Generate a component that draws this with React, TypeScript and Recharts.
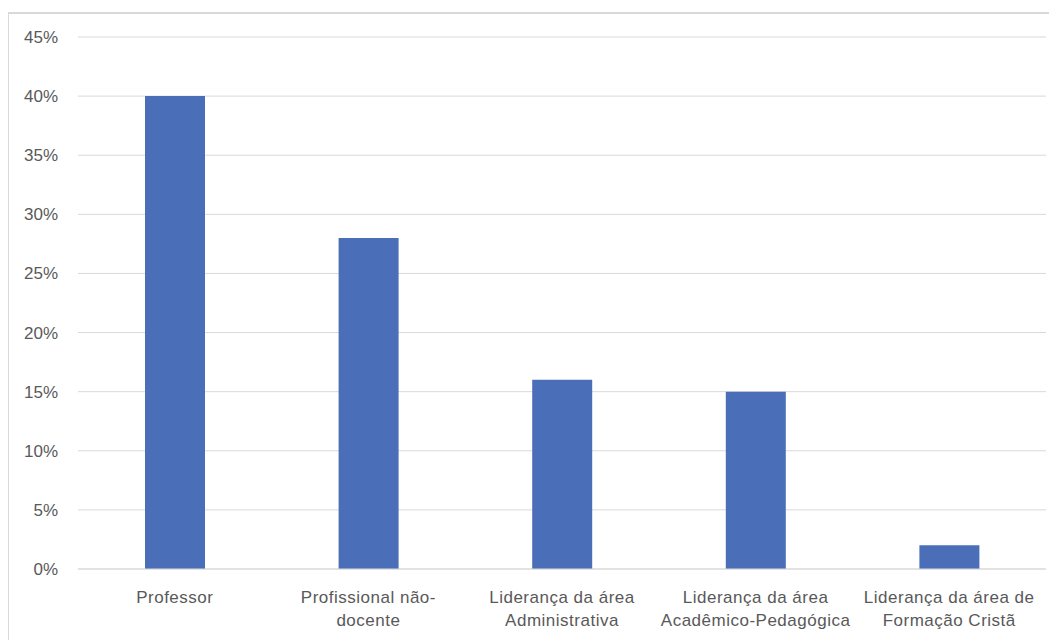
import { BarChart, Bar, XAxis, YAxis, CartesianGrid } from 'recharts'

// Perfil dos respondentes (%)
const categories = [
  'Professor',
  'Profissional não-docente',
  'Liderança da área Administrativa',
  'Liderança da área Acadêmico-Pedagógica',
  'Liderança da área de Formação Cristã',
]
const values = [40, 28, 16, 15, 2]
const tickLines = [
  ['Professor'],
  ['Profissional não-', 'docente'],
  ['Liderança da área', 'Administrativa'],
  ['Liderança da área', 'Acadêmico-Pedagógica'],
  ['Liderança da área de', 'Formação Cristã'],
]
const yTicks = [0, 5, 10, 15, 20, 25, 30, 35, 40, 45]

const data = categories.map((name, i) => ({ name, value: values[i] }))

const TEXT = '#595959'
const FONT = '"Liberation Sans", Arial, sans-serif'

function CategoryTick({ x, y, payload }: any) {
  const idx = categories.indexOf(payload.value)
  const lines = tickLines[idx] || [payload.value]
  return (
    <text x={x} y={y} textAnchor="middle" fill={TEXT} fontSize={17} fontFamily={FONT} letterSpacing={0.5}>
      {lines.map((line, i) => (
        <tspan key={i} x={x} dy={i === 0 ? 34 : 23}>
          {line}
        </tspan>
      ))}
    </text>
  )
}

export default function App() {
  return (
    <div
      style={{
        marginTop: 4,
        marginLeft: -1,
        width: 1100,
        height: 700,
        borderTop: '2px solid #d9d9d9',
        borderLeft: '2px solid #d9d9d9',
        background: '#fff',
      }}
    >
      <BarChart
        width={1060}
        height={640}
        data={data}
        margin={{ top: 23, right: 23, bottom: 25, left: 9 }}
        barCategoryGap={0}
      >
        <CartesianGrid vertical={false} stroke="#d9d9d9" strokeWidth={1} />
        <XAxis
          dataKey="name"
          axisLine={{ stroke: '#d9d9d9', strokeWidth: 1 }}
          tickLine={false}
          tickSize={0}
          tickMargin={0}
          height={60}
          interval={0}
          tick={<CategoryTick />}
        />
        <YAxis
          domain={[0, 45]}
          ticks={yTicks}
          width={60}
          axisLine={false}
          tickLine={false}
          tickSize={0}
          tickMargin={20}
          tickFormatter={(v: number) => `${v}%`}
          tick={{ fill: TEXT, fontSize: 17, fontFamily: FONT }}
          interval={0}
        />
        <Bar dataKey="value" fill="#4A6FB8" barSize={60} isAnimationActive={false} />
      </BarChart>
    </div>
  )
}
